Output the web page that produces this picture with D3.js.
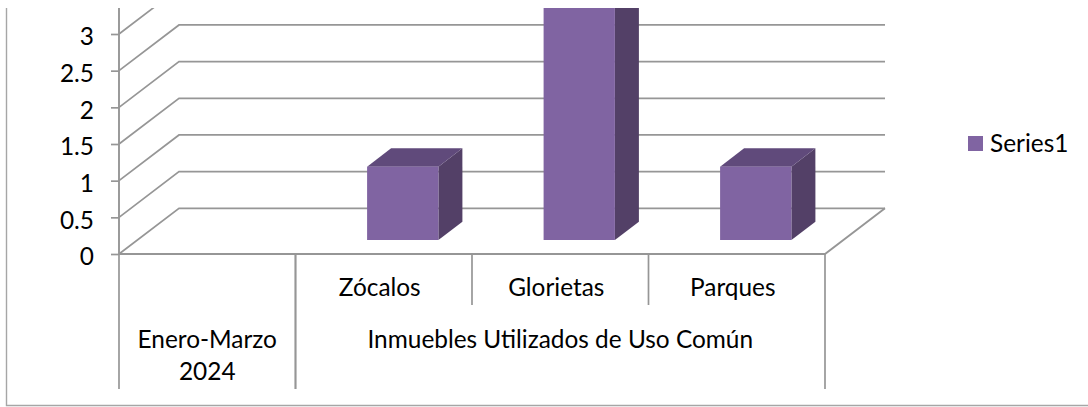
<!DOCTYPE html>
<html>
<head>
<meta charset="utf-8">
<script src="https://cdn.jsdelivr.net/npm/d3@7"></script>
<style>
  html, body { margin: 0; padding: 0; background: #fff; }
  svg { display: block; }
  text { font-family: Lato, "Open Sans", sans-serif; fill: #000; }
</style>
</head>
<body>
<div id="chart"></div>
<script>
var categories = ['', 'Zócalos', 'Glorietas', 'Parques'];
var values = [null, 1, 4, 1];
var seriesName = 'Series1';
var yTicks = [0, 0.5, 1, 1.5, 2, 2.5, 3];
var groupLabels = [
  { lines: ['Enero-Marzo', '2024'], from: 0, to: 1 },
  { lines: ['Inmuebles Utilizados de Uso Común'], from: 1, to: 4 }
];

var width = 1088, height = 407;
var axisColor = '#969696';
var frontColor = '#8064a2', sideColor = '#534067', topColor = '#604a7b';
var fontSize = 24.4;

// plot area and the 3d offsets of the back wall / of a bar
var left = 119, right = 825, base = 254;
var wallDx = 60, wallDy = 45.7;
var barFrontDx = 19, barFrontDy = 14;
var barDx = 24, barDy = 18.3;

var svg = d3.select('#chart').append('svg')
  .attr('width', width)
  .attr('height', height);

svg.append('clipPath').attr('id', 'crop').append('rect')
  .attr('x', 0).attr('y', 8).attr('width', width).attr('height', height - 8);

var g = svg.append('g').attr('clip-path', 'url(#crop)');

var x = d3.scaleBand().domain(d3.range(categories.length)).range([left, right]);
var y = d3.scaleLinear().domain([0, 3]).range([base, 34]);
var barWidth = x.bandwidth() * 0.404;

// outer frame, only left and bottom are visible in the crop
g.append('path')
  .attr('d', 'M6.5,8V405.5H' + width)
  .attr('fill', 'none')
  .attr('stroke', '#a6a6a6')
  .attr('stroke-width', 1.4);

// gridlines: side wall then back wall
yTicks.forEach(function (d) {
  g.append('polyline')
    .attr('points', [
      [left, y(d)],
      [left + wallDx, y(d) - wallDy],
      [right + wallDx, y(d) - wallDy]
    ].join(' '))
    .attr('fill', 'none')
    .attr('stroke', axisColor)
    .attr('stroke-width', 1.7);
});

// floor
g.append('polyline')
  .attr('points', [
    [left, base],
    [right, base],
    [right + wallDx, base - wallDy]
  ].join(' '))
  .attr('fill', 'none')
  .attr('stroke', axisColor)
  .attr('stroke-width', 1.9);

// value axis
var yAxis = d3.axisLeft(y)
  .tickValues(yTicks)
  .tickSize(8)
  .tickPadding(17)
  .tickFormat(function (d) { return String(d); });

var axisG = g.append('g')
  .attr('transform', 'translate(' + left + ',0)')
  .call(yAxis);
axisG.select('.domain').remove();
axisG.selectAll('.tick line').attr('stroke', axisColor).attr('stroke-width', 1.7);
axisG.selectAll('.tick text')
  .attr('font-size', fontSize)
  .attr('dy', '0.45em')
  .style('font-family', 'Lato, "Open Sans", sans-serif');

g.append('line')
  .attr('x1', left).attr('x2', left)
  .attr('y1', 8).attr('y2', base)
  .attr('stroke', axisColor)
  .attr('stroke-width', 1.9);

// bars
var barData = values.map(function (v, i) { return { v: v, i: i }; })
  .filter(function (d) { return d.v !== null; });

var bars = g.selectAll('.bar').data(barData).enter().append('g').attr('class', 'bar');

function barLeft(d) {
  return x(d.i) + (x.bandwidth() - barWidth) / 2 + barFrontDx;
}
function barBottom() { return base - barFrontDy; }
function barTop(d) { return y(d.v) - barFrontDy; }

bars.append('polygon')
  .attr('fill', sideColor)
  .attr('points', function (d) {
    var xr = barLeft(d) + barWidth;
    return [
      [xr, barBottom()],
      [xr + barDx, barBottom() - barDy],
      [xr + barDx, barTop(d) - barDy],
      [xr, barTop(d)]
    ].join(' ');
  });

bars.append('polygon')
  .attr('fill', topColor)
  .attr('points', function (d) {
    var xl = barLeft(d);
    return [
      [xl, barTop(d)],
      [xl + barWidth, barTop(d)],
      [xl + barWidth + barDx, barTop(d) - barDy],
      [xl + barDx, barTop(d) - barDy]
    ].join(' ');
  });

bars.append('rect')
  .attr('fill', frontColor)
  .attr('x', barLeft)
  .attr('y', barTop)
  .attr('width', barWidth)
  .attr('height', function (d) { return barBottom() - barTop(d); });

// category level
categories.forEach(function (c, i) {
  if (i > 1) {
    g.append('line')
      .attr('x1', x(i)).attr('x2', x(i))
      .attr('y1', base).attr('y2', 305)
      .attr('stroke', axisColor).attr('stroke-width', 1.7);
  }
  g.append('text')
    .attr('x', x(i) + x.bandwidth() / 2 - 4)
    .attr('y', 296)
    .attr('text-anchor', 'middle')
    .attr('font-size', fontSize)
    .text(c);
});

// group level
groupLabels.forEach(function (grp) {
  var x0 = x(grp.from);
  var x1 = grp.to < categories.length ? x(grp.to) : right;
  grp.lines.forEach(function (line, k) {
    g.append('text')
      .attr('x', (x0 + x1) / 2)
      .attr('y', 348 + k * 32)
      .attr('text-anchor', 'middle')
      .attr('font-size', fontSize)
      .text(line);
  });
  [x0, x1].forEach(function (px) {
    g.append('line')
      .attr('x1', px).attr('x2', px)
      .attr('y1', base).attr('y2', 389)
      .attr('stroke', axisColor).attr('stroke-width', 1.7);
  });
});

// legend
g.append('rect')
  .attr('x', 968).attr('y', 136)
  .attr('width', 15).attr('height', 15)
  .attr('fill', frontColor);
g.append('text')
  .attr('x', 990).attr('y', 152)
  .attr('font-size', fontSize)
  .text(seriesName);
</script>
</body>
</html>
